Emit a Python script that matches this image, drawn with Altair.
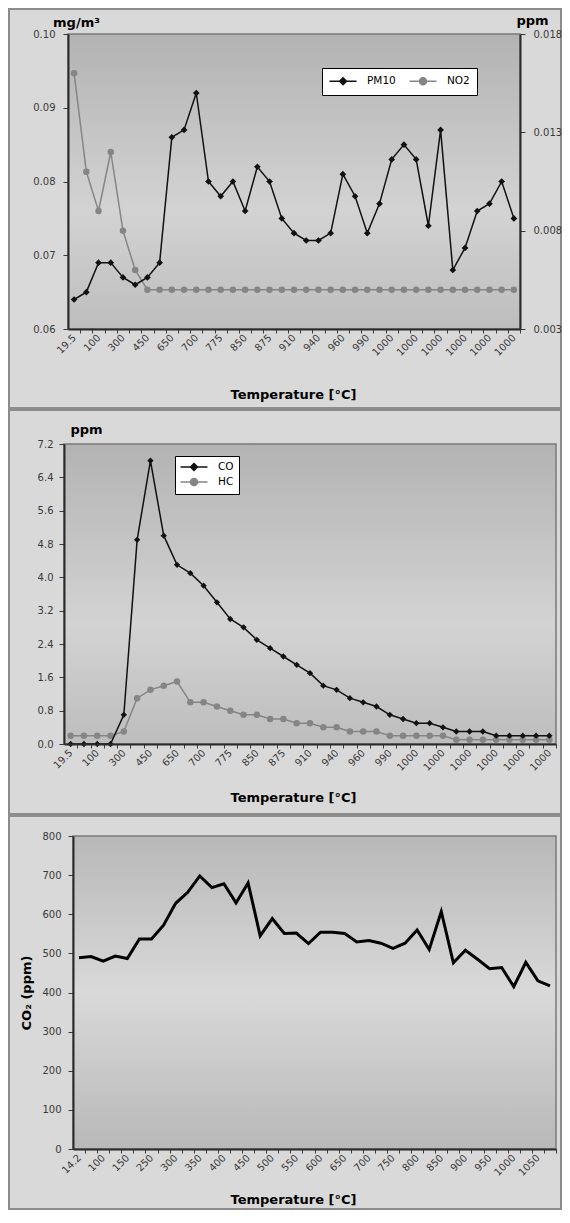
import altair as alt
import pandas as pd

# ---------------- data ----------------
p1_temp_labels = ["19.5", "100", "300", "450", "650", "700", "775", "850", "875", "910",
                  "940", "960", "990", "1000", "1000", "1000", "1000", "1000", "1000"]
pm10 = [0.064, 0.065, 0.069, 0.069, 0.067, 0.066, 0.067, 0.069, 0.086, 0.087,
        0.092, 0.080, 0.078, 0.080, 0.076, 0.082, 0.080, 0.075, 0.073, 0.072,
        0.072, 0.073, 0.081, 0.078, 0.073, 0.077, 0.083, 0.085, 0.083, 0.074,
        0.087, 0.068, 0.071, 0.076, 0.077, 0.080, 0.075]
no2 = [0.016, 0.011, 0.009, 0.012, 0.008, 0.006, 0.005, 0.005, 0.005, 0.005,
       0.005, 0.005, 0.005, 0.005, 0.005, 0.005, 0.005, 0.005, 0.005, 0.005,
       0.005, 0.005, 0.005, 0.005, 0.005, 0.005, 0.005, 0.005, 0.005, 0.005,
       0.005, 0.005, 0.005, 0.005, 0.005, 0.005, 0.005]

p2_temp_labels = ["19.5", "100", "300", "450", "650", "700", "775", "850", "875", "910",
                  "940", "960", "990", "1000", "1000", "1000", "1000", "1000", "1000"]
co = [0.0, 0.0, 0.0, 0.0, 0.7, 4.9, 6.8, 5.0, 4.3, 4.1,
      3.8, 3.4, 3.0, 2.8, 2.5, 2.3, 2.1, 1.9, 1.7, 1.4,
      1.3, 1.1, 1.0, 0.9, 0.7, 0.6, 0.5, 0.5, 0.4, 0.3,
      0.3, 0.3, 0.2, 0.2, 0.2, 0.2, 0.2]
hc = [0.2, 0.2, 0.2, 0.2, 0.3, 1.1, 1.3, 1.4, 1.5, 1.0,
      1.0, 0.9, 0.8, 0.7, 0.7, 0.6, 0.6, 0.5, 0.5, 0.4,
      0.4, 0.3, 0.3, 0.3, 0.2, 0.2, 0.2, 0.2, 0.2, 0.1,
      0.1, 0.1, 0.1, 0.1, 0.1, 0.1, 0.1]

p3_temp_labels = ["14.2", "100", "150", "250", "300", "350", "400", "450", "500", "550",
                  "600", "650", "700", "750", "800", "850", "900", "950", "1000", "1050"]
co2 = [489, 492, 480, 493, 487, 537, 537, 572, 628, 656,
       698, 668, 678, 629, 680, 545, 589, 551, 552, 525,
       554, 554, 551, 529, 533, 526, 513, 526, 560, 510,
       607, 476, 508, 485, 461, 464, 415, 477, 430, 417]

# ---------------- style ----------------
FONT = "DejaVu Sans"
PANEL = "#d9d9d9"
EDGE = "#8c8c8c"
BLACK = "#111111"
GRAY = "#858585"
one = pd.DataFrame({"k": [0]})

PATH_DIAMOND = "M-2.7,0H2.7M0,-0.7L0.7,0L0,0.7L-0.7,0Z"
PATH_CIRCLE = "M-2.7,0H2.7M-0.7,0A0.7,0.7,0,1,1,0.7,0A0.7,0.7,0,1,1,-0.7,0Z"

L = 55            # common left margin of every panel (origins are aligned)


def frame(T, W, H, R, B):
    return alt.Chart(one).mark_rect(fill=PANEL, stroke=EDGE, strokeWidth=2).encode(
        x=alt.value(-L), x2=alt.value(W + R), y=alt.value(-T), y2=alt.value(H + B))


def plot_bg(x0, W, H, stops):
    grad = alt.Gradient(gradient="linear", x1=0, x2=0, y1=0, y2=1,
                        stops=[alt.GradientStop(offset=o, color=c) for o, c in stops])
    return alt.Chart(one).mark_rect(fill=grad, stroke="#7a7a7a", strokeWidth=1.5).encode(
        x=alt.value(x0), x2=alt.value(W), y=alt.value(0), y2=alt.value(H))


def x_axis(n, span, labels, ty):
    half = span / n / 2
    arr = "[" + ",".join("'" + s + "'" for s in labels) + "]"
    return alt.Axis(values=list(range(n)),
                    labelExpr=f"datum.value % 2 == 0 ? {arr}[datum.value / 2] : ''",
                    tickOffset=half, labelOffset=-half, labelAngle=315,
                    labelAlign="right", labelBaseline="middle", labelPadding=3,
                    tickSize=4, labelOverlap=False, labelFlush=False,
                    title="Temperature [°C]", titleX=229, titleY=ty,
                    titleAlign="center", titleBaseline="middle", zindex=1)


def legend_layer(names, colors, paths, **kw):
    df = pd.DataFrame({"series": names})
    leg = alt.Legend(title=None, orient="none", fillColor="white", strokeColor="black",
                     labelFont=FONT, labelFontSize=10.5, labelColor="black",
                     symbolSize=100, symbolStrokeWidth=1.5, symbolOffset=8,
                     labelOffset=18, symbolOpacity=1, zindex=3, **kw)
    return alt.Chart(df).transform_filter("false").mark_point(filled=True, opacity=1).encode(
        shape=alt.Shape("series:N", scale=alt.Scale(domain=names, range=paths), legend=leg),
        fill=alt.Fill("series:N", scale=alt.Scale(domain=names, range=colors), legend=leg),
        stroke=alt.Stroke("series:N", scale=alt.Scale(domain=names, range=colors), legend=leg),
    )


# ---------------- panel 1 ----------------
X1, W1, H1, T1, R1, B1 = 4, 456, 295, 25, 41, 79
n1 = len(pm10)
p1_df = pd.DataFrame({"i": list(range(n1)), "PM10": pm10, "NO2": no2})
xs1 = alt.Scale(domain=[-0.5, n1 - 0.5], range=[X1, W1], nice=False, zero=False)
ax1 = x_axis(n1, W1 - X1, p1_temp_labels, 65)

no2_line = alt.Chart(p1_df).mark_line(
    color=GRAY, strokeWidth=1.5,
    point=alt.OverlayMarkDef(shape="circle", filled=True, size=42, color=GRAY, opacity=1)
).encode(
    x=alt.X("i:Q", scale=xs1, axis=ax1),
    y=alt.Y("NO2:Q", scale=alt.Scale(domain=[0.003, 0.018], nice=False, zero=False),
            axis=alt.Axis(orient="right", values=[0.003, 0.008, 0.013, 0.018], format=".3f",
                          tickSize=5, labelPadding=8, title="ppm", titleAngle=0,
                          titleX=12, titleY=-14, titleAlign="center",
                          titleBaseline="middle", zindex=1)),
)
pm10_line = alt.Chart(p1_df).mark_line(
    color=BLACK, strokeWidth=1.5,
    point=alt.OverlayMarkDef(shape="diamond", filled=True, size=45, color=BLACK, opacity=1)
).encode(
    x=alt.X("i:Q", scale=xs1, axis=ax1),
    y=alt.Y("PM10:Q", scale=alt.Scale(domain=[0.06, 0.10], nice=False, zero=False),
            axis=alt.Axis(orient="left", values=[0.06, 0.07, 0.08, 0.09, 0.10], format=".2f",
                          tickSize=5, labelPadding=8, title="mg/m³", titleAngle=0,
                          titleX=8, titleY=-12, titleAlign="center", offset=-X1,
                          titleBaseline="middle", zindex=1)),
)
leg1 = legend_layer(["PM10", "NO2"], [BLACK, GRAY], [PATH_DIAMOND, PATH_CIRCLE],
                    direction="horizontal", legendX=258, legendY=34, padding=7,
                    columnPadding=10)

p1 = alt.layer(
    frame(T1, W1, H1, R1, B1),
    plot_bg(X1, W1, H1, [(0, "#b3b3b3"), (0.6, "#d3d3d3"), (1, "#bdbdbd")]),
    no2_line, pm10_line, leg1,
).resolve_scale(y="independent").properties(width=W1, height=H1)

# ---------------- panel 2 ----------------
W2, H2, T2, R2, B2 = 492, 300, 34, 5, 70
n2 = len(co)
p2_df = pd.DataFrame({"i": list(range(n2)), "CO": co, "HC": hc})
xs2 = alt.Scale(domain=[-0.5, n2 - 0.5], nice=False, zero=False)
ys2 = alt.Scale(domain=[0, 7.2], nice=False, zero=False)
ax2 = x_axis(n2, W2, p2_temp_labels, 53)
ay2 = alt.Axis(values=[0, 0.8, 1.6, 2.4, 3.2, 4.0, 4.8, 5.6, 6.4, 7.2], format=".1f",
               tickSize=5, labelPadding=6, title="ppm", titleAngle=0,
               titleX=22, titleY=-15, titleAlign="center",
               titleBaseline="middle", zindex=1)

hc_line = alt.Chart(p2_df).mark_line(
    color=GRAY, strokeWidth=1.5,
    point=alt.OverlayMarkDef(shape="circle", filled=True, size=42, color=GRAY, opacity=1)
).encode(
    x=alt.X("i:Q", scale=xs2, axis=ax2),
    y=alt.Y("HC:Q", scale=ys2, axis=ay2),
)
co_line = alt.Chart(p2_df).mark_line(
    color=BLACK, strokeWidth=1.5,
    point=alt.OverlayMarkDef(shape="diamond", filled=True, size=40, color=BLACK, opacity=1)
).encode(
    x=alt.X("i:Q", scale=xs2, axis=ax2),
    y=alt.Y("CO:Q", scale=ys2, axis=ay2),
)
leg2 = legend_layer(["CO", "HC"], [BLACK, GRAY], [PATH_DIAMOND, PATH_CIRCLE],
                    direction="vertical", legendX=111, legendY=12, padding=5,
                    rowPadding=1)

p2 = alt.layer(
    frame(T2, W2, H2, R2, B2),
    plot_bg(0, W2, H2, [(0, "#b3b3b3"), (0.6, "#d3d3d3"), (1, "#bdbdbd")]),
    hc_line, co_line, leg2,
).properties(width=W2, height=H2)

# ---------------- panel 3 ----------------
X3, W3, H3, T3, R3, B3 = 9, 492, 313, 20, 5, 60
n3 = len(co2)
p3_df = pd.DataFrame({"i": list(range(n3)), "CO2": co2})
xs3 = alt.Scale(domain=[-0.5, n3 - 0.5], range=[X3, W3], nice=False, zero=False)
ax3 = x_axis(n3, W3 - X3, p3_temp_labels, 50)

co2_line = alt.Chart(p3_df).mark_line(color="#000000", strokeWidth=3).encode(
    x=alt.X("i:Q", scale=xs3, axis=ax3),
    y=alt.Y("CO2:Q", scale=alt.Scale(domain=[0, 800], nice=False),
            axis=alt.Axis(values=[0, 100, 200, 300, 400, 500, 600, 700, 800], format="d",
                          tickSize=5, labelPadding=7, title="CO₂ (ppm)", titleAngle=270,
                          titleX=-47, titleY=H3 / 2, titleAlign="center", offset=-X3,
                          titleBaseline="middle", zindex=1)),
)

p3 = alt.layer(
    frame(T3, W3, H3, R3, B3),
    plot_bg(X3, W3, H3, [(0, "#b8b8b8"), (0.5, "#d9d9d9"), (1, "#b8b8b8")]),
    co2_line,
).properties(width=W3, height=H3)

chart = alt.vconcat(p1, p2, p3, spacing=0).resolve_scale(
    shape="independent", fill="independent", stroke="independent"
).resolve_legend(
    shape="independent", fill="independent", stroke="independent"
).properties(
    padding=0, background="#a3a3a3"
).configure_view(strokeWidth=0).configure_axis(
    labelFont=FONT, labelFontSize=10, labelColor="#3a3a3a",
    titleFont=FONT, titleFontSize=13, titleFontWeight="bold", titleColor="#000000",
    domainColor="#2a2a2a", domainWidth=2, tickColor="#3a3a3a", tickWidth=1, grid=False,
)

chart.save("out.html", embed_options={"renderer": "svg", "actions": False})
